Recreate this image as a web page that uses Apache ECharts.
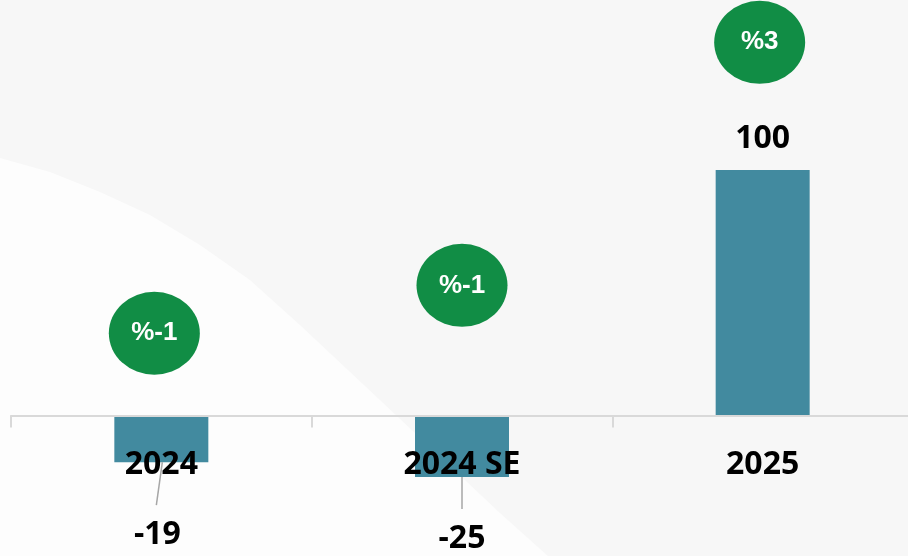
<!DOCTYPE html>
<html>
<head>
<meta charset="utf-8">
<script src="https://cdn.jsdelivr.net/npm/echarts@6/dist/echarts.min.js"></script>
<style>
  html, body { margin: 0; padding: 0; }
  #chart { width: 908px; height: 556px; }
</style>
</head>
<body>
<div id="chart"></div>
<script>
// chart data
const categories = ['2024', '2024 SE', '2025'];
const values = [-19, -25, 100];
const changeLabels = ['%-1', '%-1', '%3'];

// where the green bubbles sit (value-axis units) and small nudges
const bubbleLevels = [33.5, 53, 152];
const bubbleShift = [[-7, 0], [0, 0], [-3, 0]];
const labelGap = [57, 46, 15];
const labelShift = [[-4, 0], [0, 0], [0, 0]];
const leaderLines = [[1, 0, -5, 43], [0, 0, 0, 32]];

const textFont = '"Open Sans", "Liberation Sans", sans-serif';
const chart = echarts.init(document.getElementById('chart'));

const barData = values.map((v, i) => ({
  value: v,
  label: {
    position: v < 0 ? 'bottom' : 'top',
    distance: labelGap[i],
    offset: labelShift[i]
  }
}));

const bubbleData = categories.map((c, i) => ({
  value: [c, bubbleLevels[i]],
  symbolOffset: bubbleShift[i]
}));

const leaderData = values
  .map((v, i) => [categories[i], v])
  .filter(d => d[1] < 0);

const option = {
  backgroundColor: '#f7f7f7',
  animation: false,
  graphic: [
    {
      type: 'polygon',
      z: -10,
      shape: {
        points: [[0, 158], [50, 172], [100, 192], [150, 215], [200, 245], [250, 280],
          [300, 325], [380, 400], [500, 513], [548, 556], [0, 556]]
      },
      style: { fill: '#fdfdfd' }
    }
  ],
  grid: {
    left: 11,
    top: 3,
    width: 902,
    height: 412.5,
    outerBoundsMode: 'none'
  },
  xAxis: {
    type: 'category',
    data: categories,
    z: 5,
    axisLine: { lineStyle: { color: '#d9d9d9', width: 2 } },
    axisTick: { show: true, length: 12, lineStyle: { color: '#d9d9d9', width: 2 } },
    axisLabel: {
      margin: 33,
      color: '#000',
      fontSize: 32,
      fontWeight: 'bold',
      fontFamily: textFont
    }
  },
  yAxis: {
    type: 'value',
    min: 0,
    max: 168,
    show: false
  },
  series: [
    {
      type: 'bar',
      data: barData,
      barWidth: 94,
      clip: false,
      itemStyle: { color: '#428a9f' },
      label: {
        show: true,
        color: '#000',
        fontSize: 32,
        fontWeight: 'bold',
        fontFamily: textFont
      }
    },
    {
      type: 'custom',
      data: leaderData,
      z: 3,
      clip: false,
      renderItem: (params, api) => {
        const p = api.coord([api.value(0), api.value(1)]);
        const l = leaderLines[params.dataIndex];
        return {
          type: 'line',
          shape: { x1: p[0] + l[0], y1: p[1] + l[1], x2: p[0] + l[2], y2: p[1] + l[3] },
          style: { stroke: '#a6a6a6', lineWidth: 1.5 }
        };
      }
    },
    {
      type: 'scatter',
      data: bubbleData,
      symbol: 'circle',
      symbolSize: [91, 83],
      itemStyle: { color: '#118d45', opacity: 1 },
      label: {
        show: true,
        position: 'inside',
        formatter: p => changeLabels[p.dataIndex],
        color: '#fff',
        fontSize: 26,
        fontWeight: 'bold',
        fontFamily: '"Liberation Sans", Arial, sans-serif'
      }
    }
  ]
};

chart.setOption(option);
</script>
</body>
</html>
